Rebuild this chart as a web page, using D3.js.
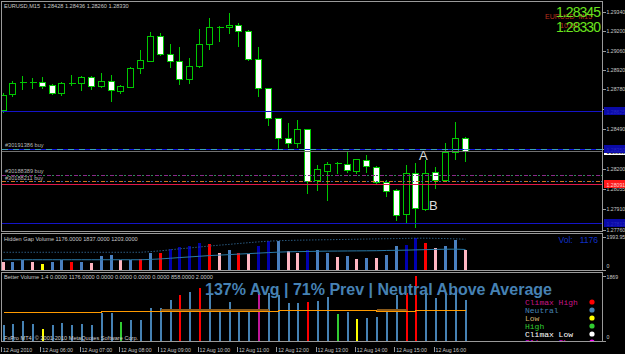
<!DOCTYPE html>
<html>
<head>
<meta charset="utf-8">
<script src="https://cdnjs.cloudflare.com/ajax/libs/d3/7.8.5/d3.min.js"></script>
<style>
  body { margin: 0; background: #000; }
  svg { display: block; }
  text { font-family: "Liberation Sans", Arial, sans-serif; }
</style>
</head>
<body>
<svg id="chart" width="625" height="354"></svg>
<script>
// EURUSD M15, 12 Aug 2010 05:00 .. 16:45
var opens  = [1.28630,1.28744,1.28827,1.28830,1.28830,1.28811,1.28751,1.28824,1.28828,1.28867,
              1.28804,1.28840,1.28770,1.28799,1.28932,1.28987,1.29166,1.29036,1.28985,1.28854,
              1.28949,1.29106,1.29225,1.29229,1.29246,1.29204,1.28997,1.28787,1.28570,1.28429,
              1.28388,1.28490,1.28122,1.28190,1.28239,1.28236,1.28190,1.28267,1.28219,1.28106,
              1.28050,1.27876,1.28175,1.27910,1.28183,1.28122,1.28328,1.28428];
var highs  = [1.28753,1.28840,1.28878,1.28862,1.28869,1.28818,1.28833,1.28883,1.28876,1.28876,
              1.28900,1.28883,1.28811,1.28941,1.29065,1.29195,1.29186,1.29108,1.29084,1.29009,
              1.29217,1.29294,1.29239,1.29331,1.29258,1.29210,1.29089,1.28789,1.28572,1.28533,
              1.28557,1.28492,1.28231,1.28255,1.28255,1.28328,1.28275,1.28304,1.28224,1.28122,
              1.28057,1.28231,1.28243,1.28267,1.28219,1.28388,1.28545,1.28436];
var lows   = [1.28615,1.28731,1.28780,1.28789,1.28789,1.28746,1.28738,1.28811,1.28775,1.28782,
              1.28800,1.28695,1.28753,1.28793,1.28896,1.28985,1.29028,1.28944,1.28818,1.28828,
              1.28941,1.29072,1.29132,1.29186,1.29094,1.28992,1.28731,1.28521,1.28354,1.28364,
              1.28364,1.28030,1.28050,1.27977,1.28171,1.28183,1.28171,1.28183,1.28101,1.28006,
              1.27832,1.27820,1.27784,1.27905,1.28062,1.28115,1.28272,1.28260];
var closes = [1.28738,1.28828,1.28830,1.28834,1.28806,1.28751,1.28823,1.28828,1.28867,1.28804,
              1.28840,1.28775,1.28804,1.28932,1.28992,1.29166,1.29033,1.28985,1.28854,1.28949,
              1.29106,1.29229,1.29229,1.29246,1.29204,1.28997,1.28787,1.28570,1.28425,1.28388,
              1.28490,1.28117,1.28200,1.28236,1.28243,1.28195,1.28272,1.28224,1.28106,1.28045,
              1.27869,1.28175,1.27917,1.28175,1.28122,1.28328,1.28425,1.28330];

var priceTicks = [1.29340,1.29200,1.29060,1.28920,1.28780,1.28635,1.28490,1.28345,1.28200,1.28055,1.27910,1.27760];

// horizontal levels on the price chart
var blueLevels = [1.28625, 1.27813];
var orderPrices = [1.28350, 1.28162, 1.28115];
var orderTickets = ["#30191386 buy", "#30188389 buy", "#30188211 buy"];
var redLevel = 1.28091;
var bidPrice = 1.28330;
var askPrice = 1.28345;

// Hidden Gap Volume
var hgVolume = [483,483,586,483,362,423,544,483,483,405,
                804,846,562,604,622,967,967,1227,1372,1450,
                1589,1529,967,1166,967,924,1390,1692,1734,1088,
                967,1166,1190,1000,760,800,650,700,720,864,
                1390,1468,1933,1631,1269,1432,1794,1176];
var hgType = ["pink","steel","steel","pink","yellow","steel","steel","red","steel","pink",
              "steel","steel","pink","steel","red","steel","red","navy","navy","navy",
              "navy","red","pink","steel","red","pink","navy","navy","steel","pink",
              "pink","navy","steel","steel","pink","steel","pink","steel","pink","steel",
              "steel","navy","navy","red","pink","steel","steel","pink"];
var hgUpper = [1040,1040,1040,1040,1040,1040,1040,1040,1040,1040,1040,1040,1040,1040,1040,
               1080,1130,1190,1250,1300,1360,1420,1470,1520,1570,1620,1670,1710,1740,1755,
               1770,1780,1790,1800,1810,1820,1830,1840,1850,1860,1870,1880,1890,1890,1880,
               1870,1850,1837];
var hgAvg = [590,590,590,590,590,590,590,590,590,590,590,590,590,590,590,
             610,640,680,720,760,800,840,870,900,930,960,990,1020,1050,1070,
             1080,1090,1100,1110,1115,1120,1125,1130,1135,1150,1160,1170,1185,1200,1215,
             1225,1230,1210];

// Better Volume
var bvVolume = [438,467,555,488,321,458,517,438,467,438,
                797,797,534,604,604,955,955,1188,1305,1393,
                1510,1381,896,1118,926,826,1334,1364,1314,1101,
                1101,1118,1148,1264,780,826,634,663,680,826,
                1314,1364,1869,1381,1218,1364,1510,1176];
var bvType = ["n","n","n","n","low","n","n","n","n","n",
              "n","n","high","n","n","n","n","n","climaxHigh","n",
              "climaxHigh","n","n","n","n","n","churn","n","n","n",
              "n","climaxHigh","n","n","high","n","low","n","n","n",
              "n","climaxHigh","climaxHigh","n","n","n","n","n"];
var bvAvg = [817,817,817,817,817,817,817,817,817,817,
             866,866,866,866,866,866,866,866,866,866,
             866,866,866,866,866,866,866,866,870,872,
             875,877,880,880,880,880,880,880,852,850,
             850,850,890,890,890,890,890,890];
var bvShade = [null,null,null,null,null,null,null,null,null,null,
               null,null,null,null,null,null,872,872,872,872,
               872,872,872,872,872,872,872,872,null,null,
               null,null,null,null,null,null,null,null,856,856,
               856,856,null,null,null,null,null,null];
var legendNames = ["Climax High","Neutral","Low","High","Climax Low","Climax Churn"];

var W = 625, H = 354;
var green = "#00c800", frame = "#9a9a9a", label = "#c8c8c8";
var hgColor = {pink: "#ffb6c1", steel: "#4a80c0", yellow: "#ffff00", red: "#ff0000", navy: "#0000b0"};
var bvColor = {n: "#4682b4", low: "#ffff00", high: "#32cd32", climaxHigh: "#ff0000", churn: "#c0189a"};
var legendText = ["#c71585","#4682b4","#d2b070","#32cd32","#ffffff","#ff00ff"];
var legendDot = ["#ff0000","#4682b4","#ffff00","#32cd32","#ffffff","#ff00ff"];

var plotL = 1.5, plotR = 602.5;
var mainTop = 1.5, mainBot = 231.5, hgTop = 233.5, hgBot = 270.5, bvTop = 272.5, bvBot = 341.5;

var svg = d3.select("#chart").attr("shape-rendering", "crispEdges");
svg.append("rect").attr("width", W).attr("height", H).attr("fill", "#000");

var defs = svg.append("defs");
[["clip-main", mainTop, mainBot], ["clip-hg", hgTop, hgBot], ["clip-bv", bvTop, bvBot]].forEach(function(c) {
  defs.append("clipPath").attr("id", c[0]).append("rect")
    .attr("x", plotL + 0.5).attr("y", c[1] + 0.5)
    .attr("width", plotR - plotL - 1).attr("height", c[2] - c[1] - 1);
});

var t0 = new Date(2010, 7, 12, 5, 0);
var barTimes = opens.map(function(d, i) { return d3.timeMinute.offset(t0, 15 * i); });
var x = d3.scaleTime().domain([barTimes[0], barTimes[barTimes.length - 1]]).range([2.5, 464.5]);
var y = d3.scaleLinear().domain([1.2934, 1.2776]).range([12, 230]);
function cx(i) { return Math.round(x(barTimes[i])) + 0.5; }
function py(p) { return Math.round(y(p)) + 0.5; }

// panel frames
[[mainTop, mainBot], [hgTop, hgBot], [bvTop, bvBot]].forEach(function(p) {
  svg.append("rect").attr("x", plotL).attr("y", p[0])
    .attr("width", plotR - plotL).attr("height", p[1] - p[0])
    .attr("fill", "none").attr("stroke", frame);
});

// ---- price chart ----
var mg = svg.append("g").attr("clip-path", "url(#clip-main)");
var idx = d3.range(opens.length);

mg.selectAll(".wick").data(idx).join("line")
  .attr("x1", cx).attr("x2", cx)
  .attr("y1", function(i) { return Math.round(y(highs[i])); })
  .attr("y2", function(i) { return Math.round(y(lows[i])) + 1; })
  .attr("stroke", green);

function isDoji(i) { return Math.abs(y(opens[i]) - y(closes[i])) < 1.5; }

mg.selectAll(".body").data(idx.filter(function(i) { return !isDoji(i); })).join("rect")
  .attr("x", function(i) { return cx(i) - 3; })
  .attr("width", 6)
  .attr("y", function(i) { return py(Math.max(opens[i], closes[i])); })
  .attr("height", function(i) { return py(Math.min(opens[i], closes[i])) - py(Math.max(opens[i], closes[i])); })
  .attr("fill", function(i) { return closes[i] >= opens[i] ? "#000" : "#fff"; })
  .attr("stroke", green);

mg.selectAll(".doji").data(idx.filter(isDoji)).join("line")
  .attr("x1", function(i) { return cx(i) - 3; })
  .attr("x2", function(i) { return cx(i) + 4; })
  .attr("y1", function(i) { return py(closes[i]); })
  .attr("y2", function(i) { return py(closes[i]); })
  .attr("stroke", green);

// levels
function hline(p, color, dash, width) {
  mg.append("line").attr("x1", plotL).attr("x2", plotR)
    .attr("y1", py(p)).attr("y2", py(p))
    .attr("stroke", color).attr("stroke-width", width || 1)
    .attr("stroke-dasharray", dash || null);
}
blueLevels.forEach(function(p) { hline(p, "#1414c8", null, 1.5); });
hline(bidPrice, "#707070");
hline(orderPrices[0], "#1010e0", null, 1.5);
hline(orderPrices[0], "#3aa0b8", "6,5");
hline(orderPrices[1], "#8a2a8a", "4,5");
mg.append("line").attr("x1", plotL + 5).attr("x2", plotR)
  .attr("y1", py(orderPrices[1])).attr("y2", py(orderPrices[1]))
  .attr("stroke", "#2e8b57").attr("stroke-dasharray", "2,7");
hline(orderPrices[2], "#d07020", "4,5");
mg.append("line").attr("x1", plotL + 5).attr("x2", plotR)
  .attr("y1", py(orderPrices[2])).attr("y2", py(orderPrices[2]))
  .attr("stroke", "#4060a0").attr("stroke-dasharray", "2,7");
hline(redLevel, "#e0184a", null, 1.5);

orderTickets.forEach(function(t, i) {
  svg.append("text").attr("x", 5).attr("y", y(orderPrices[i]) - 1.5)
    .attr("font-size", 5.6).attr("fill", "#b8b8b8").text(t);
});

// A / B marks
svg.append("text").attr("x", 419).attr("y", 160).attr("font-size", 13)
  .attr("fill", "#dcdcdc").text("A");
svg.append("text").attr("x", 429).attr("y", 210).attr("font-size", 13)
  .attr("fill", "#dcdcdc").text("B");

// header
svg.append("text").attr("x", 4).attr("y", 8).attr("font-size", 5.6).attr("fill", label)
  .style("white-space", "pre")
  .text("EURUSD,M15  " + [opens[47], highs[47], lows[47], closes[47]].map(d3.format(".5f")).join(" "));

// top-right quote
svg.append("text").attr("x", 545).attr("y", 19).attr("font-size", 7).attr("fill", "#b8301e")
  .style("white-space", "pre").text("EURUSD  M15");
svg.append("text").attr("x", 560).attr("y", 28).attr("font-size", 7).attr("fill", "#b8301e").text("10:03");
svg.append("text").attr("x", 601).attr("y", 17).attr("font-size", 14).attr("text-anchor", "end")
  .attr("textLength", 45).attr("fill", "#6ae41e").text(d3.format(".5f")(askPrice));
svg.append("text").attr("x", 601).attr("y", 32).attr("font-size", 14).attr("text-anchor", "end")
  .attr("textLength", 45).attr("fill", "#6ae41e").text(d3.format(".5f")(bidPrice));

// right price axis
var yAxis = svg.append("g").attr("transform", "translate(" + plotR + ",0)")
  .call(d3.axisRight(y).tickValues(priceTicks).tickSize(3).tickPadding(1).tickFormat(d3.format(".5f")));
yAxis.select(".domain").remove();
yAxis.selectAll("line").attr("stroke", frame);
yAxis.selectAll("text").attr("font-size", 5.2).attr("fill", label);

function axisTag(p, bg, fg) {
  svg.append("rect").attr("x", plotR + 1).attr("y", py(p) - 4.5).attr("width", W - plotR).attr("height", 8).attr("fill", bg);
  svg.append("text").attr("x", plotR + 4).attr("y", py(p) + 2).attr("font-size", 5.2).attr("fill", fg)
    .text(d3.format(".5f")(p));
}
axisTag(bidPrice, "#ffffff", "#000");
blueLevels.forEach(function(p) { axisTag(p, "#0a0aa8", "#2828c0"); });
axisTag(orderPrices[0], "#0a0aa8", "#2828c0");
axisTag(redLevel, "#ff1a1a", "#ffd0d0");

// ---- Hidden Gap Volume ----
var yh = d3.scaleLinear().domain([0, 1993.95]).range([269.5, 236.5]);
var hg = svg.append("g").attr("clip-path", "url(#clip-hg)");
hg.selectAll("rect").data(idx).join("rect")
  .attr("x", function(i) { return cx(i) - 1.5; })
  .attr("width", 3)
  .attr("y", function(i) { return Math.round(yh(hgVolume[i])); })
  .attr("height", function(i) { return Math.round(yh(0)) - Math.round(yh(hgVolume[i])); })
  .attr("fill", function(i) { return hgColor[hgType[i]]; });
hg.append("path").datum(idx)
  .attr("d", d3.line().x(cx).y(function(i) { return yh(hgUpper[i]); }))
  .attr("fill", "none").attr("stroke", "#2a5a80").attr("stroke-dasharray", "1.5,1.5")
  .attr("shape-rendering", "auto");
hg.append("path").datum(idx)
  .attr("d", d3.line().x(cx).y(function(i) { return yh(hgAvg[i]); }))
  .attr("fill", "none").attr("stroke", "#2a7aa8").attr("shape-rendering", "auto");

svg.append("text").attr("x", 4).attr("y", 241).attr("font-size", 5.6).attr("fill", label)
  .text("Hidden Gap Volume " + [hgVolume[47], hgUpper[47], 1203].map(d3.format(".4f")).join(" "));
svg.append("text").attr("x", 598).attr("y", 243).attr("font-size", 8.5).attr("text-anchor", "end")
  .attr("fill", "#1030c8").style("white-space", "pre").text("Vol:   " + hgVolume[47]);

var hgAxis = svg.append("g").attr("transform", "translate(" + plotR + ",0)")
  .call(d3.axisRight(yh).tickValues([0, 1993.95]).tickSize(3).tickPadding(1)
    .tickFormat(function(d) { return d === 0 ? "0" : d3.format(".2f")(d); }));
hgAxis.select(".domain").remove();
hgAxis.selectAll("line").attr("stroke", frame);
hgAxis.selectAll("text").attr("font-size", 5.2).attr("fill", label)
  .attr("dy", function(d) { return d === 0 ? "-0.3em" : "0.4em"; });

// ---- Better Volume ----
var yb = d3.scaleLinear().domain([0, 1869]).range([340.5, 276]);
var bv = svg.append("g").attr("clip-path", "url(#clip-bv)");
bv.selectAll("rect").data(idx).join("rect")
  .attr("x", function(i) { return cx(i) - 0.5; })
  .attr("width", 2)
  .attr("y", function(i) { return Math.round(yb(bvVolume[i])); })
  .attr("height", function(i) { return Math.round(yb(0)) - Math.round(yb(bvVolume[i])); })
  .attr("fill", function(i) { return bvColor[bvType[i]]; });
bv.append("path").datum(idx)
  .attr("d", d3.line().defined(function(i) { return bvShade[i] != null; })
    .x(cx).y(function(i) { return yb(bvShade[i]); }))
  .attr("fill", "none").attr("stroke", "#8a5a1a").attr("stroke-width", 3);
bv.append("path").datum(idx)
  .attr("d", d3.line().curve(d3.curveStepAfter).x(cx).y(function(i) { return Math.round(yb(bvAvg[i])) + 0.5; }))
  .attr("fill", "none").attr("stroke", "#ff9a00");

bv.append("text").attr("x", 205).attr("y", 294.5).attr("font-size", 16).attr("font-weight", "bold")
  .attr("textLength", 347).attr("fill", "#4682b4")
  .text("137% Avg | 71% Prev | Neutral Above Average");

legendNames.forEach(function(n, i) {
  var ly = 302 + i * 8;
  bv.append("text").attr("x", 525).attr("y", ly + 2.5).attr("font-size", 8)
    .style("font-family", "'Liberation Mono', 'DejaVu Sans Mono', monospace")
    .attr("fill", legendText[i]).text(n);
  bv.append("circle").attr("cx", 592).attr("cy", ly).attr("r", 2.6)
    .attr("fill", legendDot[i]).attr("shape-rendering", "auto");
});

svg.append("text").attr("x", 4).attr("y", 279).attr("font-size", 5.6).attr("fill", label)
  .text("Better Volume 1.4 0.0000 " + d3.format(".4f")(bvVolume[47]) + " 0.0000 0.0000 0.0000 0.0000 " + d3.format(".4f")(858) + " 2.0000");
svg.append("text").attr("x", 4).attr("y", 339.5).attr("font-size", 5.6).attr("fill", "#d0d0d0")
  .text("FxPro MT4, \u00a9 2001-2010 MetaQuotes Software Corp.");

var bvAxis = svg.append("g").attr("transform", "translate(" + plotR + ",0)")
  .call(d3.axisRight(yb).tickValues([0, 1869]).tickSize(3).tickPadding(1).tickFormat(d3.format("d")));
bvAxis.select(".domain").remove();
bvAxis.selectAll("line").attr("stroke", frame);
bvAxis.selectAll("text").attr("font-size", 5.2).attr("fill", label)
  .attr("dy", function(d) { return d === 0 ? "-0.3em" : "0.5em"; });

// ---- time axis ----
var hourTicks = d3.timeHour.range(barTimes[0], d3.timeMinute.offset(barTimes[barTimes.length - 1], 1));
var xAxis = svg.append("g").attr("transform", "translate(0," + bvBot + ")")
  .call(d3.axisBottom(x).tickValues(hourTicks).tickSize(0)
    .tickFormat(function(d, i) { return i === 0 ? d3.timeFormat("%d %b %Y")(d) : d3.timeFormat("%d %b %H:%M")(d); }));
xAxis.select(".domain").remove();
xAxis.selectAll("text").attr("text-anchor", "start").attr("x", 0).attr("y", 10).attr("dy", 0)
  .attr("font-size", 5.2).attr("fill", label);
xAxis.selectAll(".tick").append("line").attr("x1", -1.5).attr("x2", -1.5).attr("y1", 5).attr("y2", 10)
  .attr("stroke", frame);
</script>
</body>
</html>
